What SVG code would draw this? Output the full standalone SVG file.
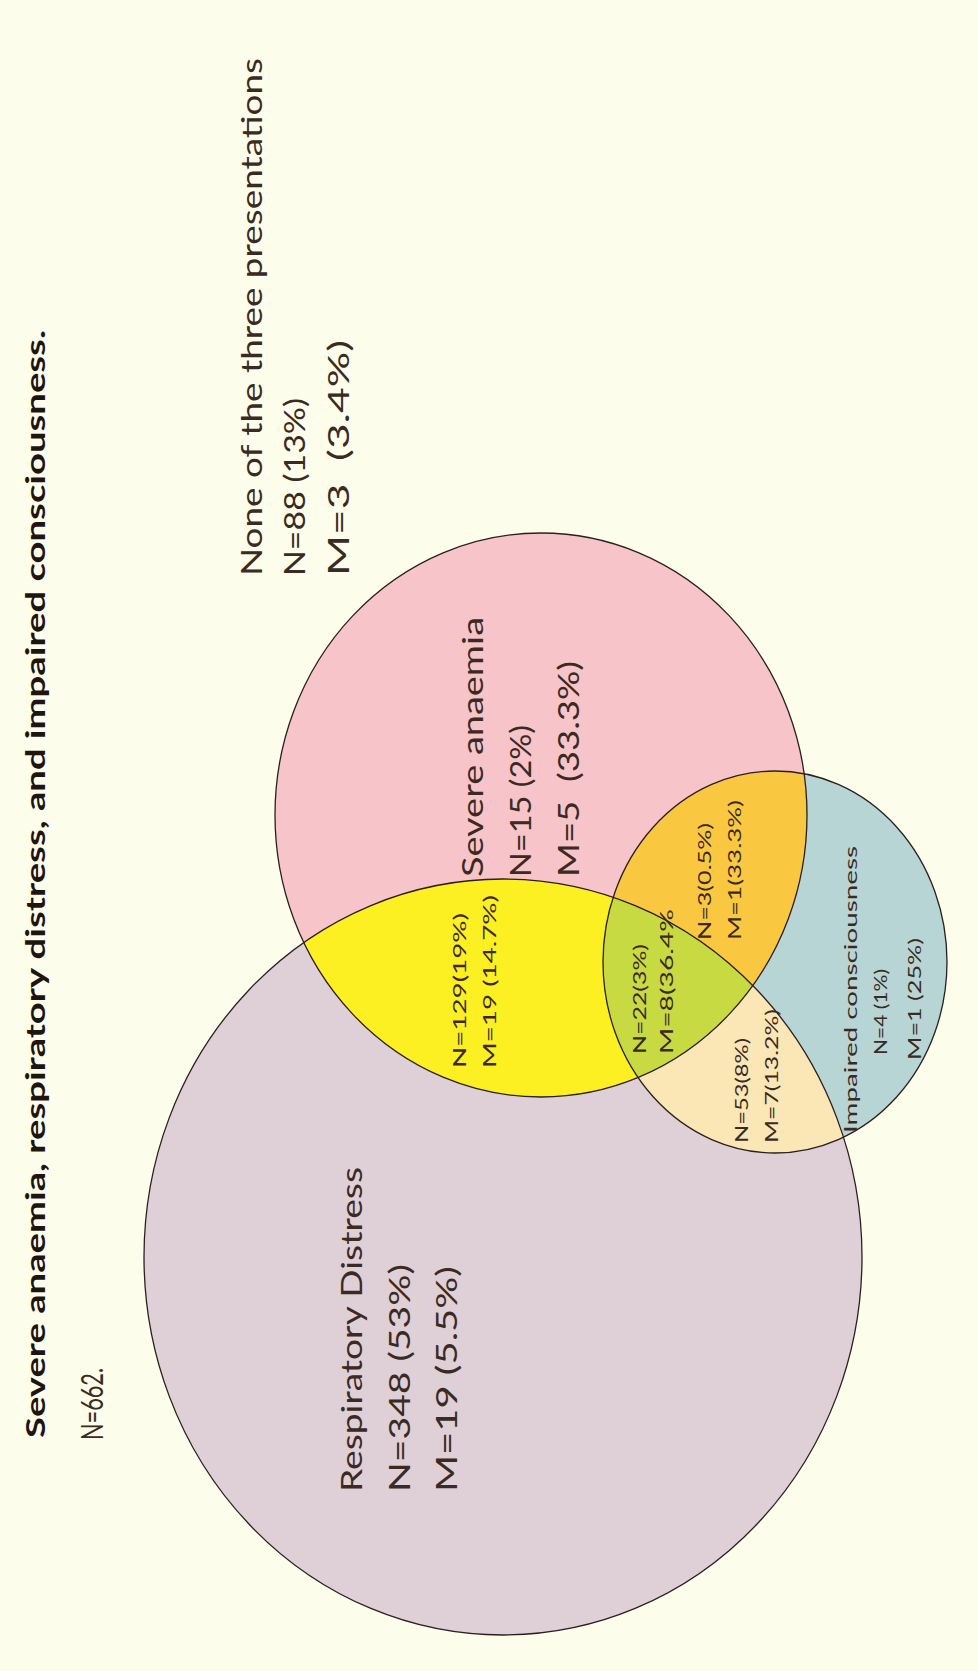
<svg xmlns="http://www.w3.org/2000/svg" width="978" height="1671" viewBox="0 0 978 1671">
<style>
.t{font-family:Lato,"Open Sans","Liberation Sans",sans-serif;fill:#3a2a22}
.big{font-size:28px}
.sm{font-size:17px}
.md{font-size:18px}
.ttl{font-size:27px;font-weight:bold;fill:#1e1410}
.edge{fill:none;stroke:#2b1f1f;stroke-width:1.3}
</style>
<defs>
<clipPath id="cRD"><ellipse cx="503" cy="1257" rx="359" ry="378"/></clipPath>
<clipPath id="cSA"><ellipse cx="541" cy="815" rx="266" ry="282"/></clipPath>
</defs>
<rect width="978" height="1671" fill="#FCFDEB"/>
<g id="header">
<text class="t ttl" transform="translate(45,1438) rotate(-90)" textLength="1108" lengthAdjust="spacingAndGlyphs">Severe anaemia, respiratory distress, and impaired consciousness.</text>
<text class="t" font-size="30" transform="translate(103,1440) rotate(-90)" textLength="72" lengthAdjust="spacingAndGlyphs">N=662.</text>
</g>
<g id="none">
<text class="t big" transform="translate(262,576) rotate(-90)" textLength="518" lengthAdjust="spacingAndGlyphs">None of the three presentations</text>
<text class="t big" transform="translate(305,576) rotate(-90)" textLength="178" lengthAdjust="spacingAndGlyphs">N=88 (13%)</text>
<text class="t big" xml:space="preserve" transform="translate(349,576) rotate(-90)" textLength="236" lengthAdjust="spacingAndGlyphs">M=3  (3.4%)</text>
</g>
<g id="respiratory-distress">
<ellipse cx="503" cy="1257" rx="359" ry="378" fill="#DFCFD7"/>
</g>
<g id="severe-anaemia">
<ellipse cx="541" cy="815" rx="266" ry="282" fill="#F6C4C9"/>
</g>
<g id="impaired-consciousness">
<ellipse cx="775" cy="962" rx="172" ry="191" fill="#B7D5D4"/>
</g>
<g id="sa-rd">
<ellipse cx="541" cy="815" rx="266" ry="282" fill="#FCEF22" clip-path="url(#cRD)"/>
</g>
<g id="rd-ic">
<ellipse cx="775" cy="962" rx="172" ry="191" fill="#FBE6B6" clip-path="url(#cRD)"/>
</g>
<g id="sa-ic">
<ellipse cx="775" cy="962" rx="172" ry="191" fill="#F9C840" clip-path="url(#cSA)"/>
</g>
<g id="all-three">
<g clip-path="url(#cSA)"><ellipse cx="775" cy="962" rx="172" ry="191" fill="#C8DA42" clip-path="url(#cRD)"/></g>
</g>
<g id="outlines">
<ellipse class="edge" cx="503" cy="1257" rx="359" ry="378"/>
<ellipse class="edge" cx="541" cy="815" rx="266" ry="282"/>
<ellipse class="edge" cx="775" cy="962" rx="172" ry="191"/>
</g>
<g id="labels">
<g id="label-rd">
<text class="t big" transform="translate(362,1492) rotate(-90)" textLength="325" lengthAdjust="spacingAndGlyphs">Respiratory Distress</text>
<text class="t big" transform="translate(410,1492) rotate(-90)" textLength="228" lengthAdjust="spacingAndGlyphs">N=348 (53%)</text>
<text class="t big" transform="translate(457,1492) rotate(-90)" textLength="226" lengthAdjust="spacingAndGlyphs">M=19 (5.5%)</text>
</g>
<g id="label-sa">
<text class="t big" transform="translate(483,877) rotate(-90)" textLength="260" lengthAdjust="spacingAndGlyphs">Severe anaemia</text>
<text class="t big" transform="translate(531,877) rotate(-90)" textLength="152" lengthAdjust="spacingAndGlyphs">N=15 (2%)</text>
<text class="t big" xml:space="preserve" transform="translate(579,877) rotate(-90)" textLength="216" lengthAdjust="spacingAndGlyphs">M=5  (33.3%)</text>
</g>
<g id="label-sa-rd">
<text class="t sm" transform="translate(466,1068) rotate(-90)" textLength="155" lengthAdjust="spacingAndGlyphs">N=129(19%)</text>
<text class="t sm" transform="translate(496,1068) rotate(-90)" textLength="173" lengthAdjust="spacingAndGlyphs">M=19 (14.7%)</text>
</g>
<g id="label-all">
<text class="t sm" transform="translate(646,1054) rotate(-90)" textLength="110" lengthAdjust="spacingAndGlyphs">N=22(3%)</text>
<text class="t sm" transform="translate(673,1054) rotate(-90)" textLength="145" lengthAdjust="spacingAndGlyphs">M=8(36.4%</text>
</g>
<g id="label-sa-ic">
<text class="t sm" transform="translate(711,940) rotate(-90)" textLength="117" lengthAdjust="spacingAndGlyphs">N=3(0.5%)</text>
<text class="t sm" transform="translate(741,940) rotate(-90)" textLength="140" lengthAdjust="spacingAndGlyphs">M=1(33.3%)</text>
</g>
<g id="label-rd-ic">
<text class="t sm" transform="translate(748,1143) rotate(-90)" textLength="105" lengthAdjust="spacingAndGlyphs">N=53(8%)</text>
<text class="t sm" transform="translate(778,1143) rotate(-90)" textLength="134" lengthAdjust="spacingAndGlyphs">M=7(13.2%)</text>
</g>
<g id="label-ic">
<text class="t md" transform="translate(857,1133) rotate(-90)" textLength="287" lengthAdjust="spacingAndGlyphs">Impaired consciousness</text>
<text class="t sm" transform="translate(887,1055) rotate(-90)" textLength="86" lengthAdjust="spacingAndGlyphs">N=4 (1%)</text>
<text class="t sm" transform="translate(921,1060) rotate(-90)" textLength="122" lengthAdjust="spacingAndGlyphs">M=1 (25%)</text>
</g>
</g>
</svg>
